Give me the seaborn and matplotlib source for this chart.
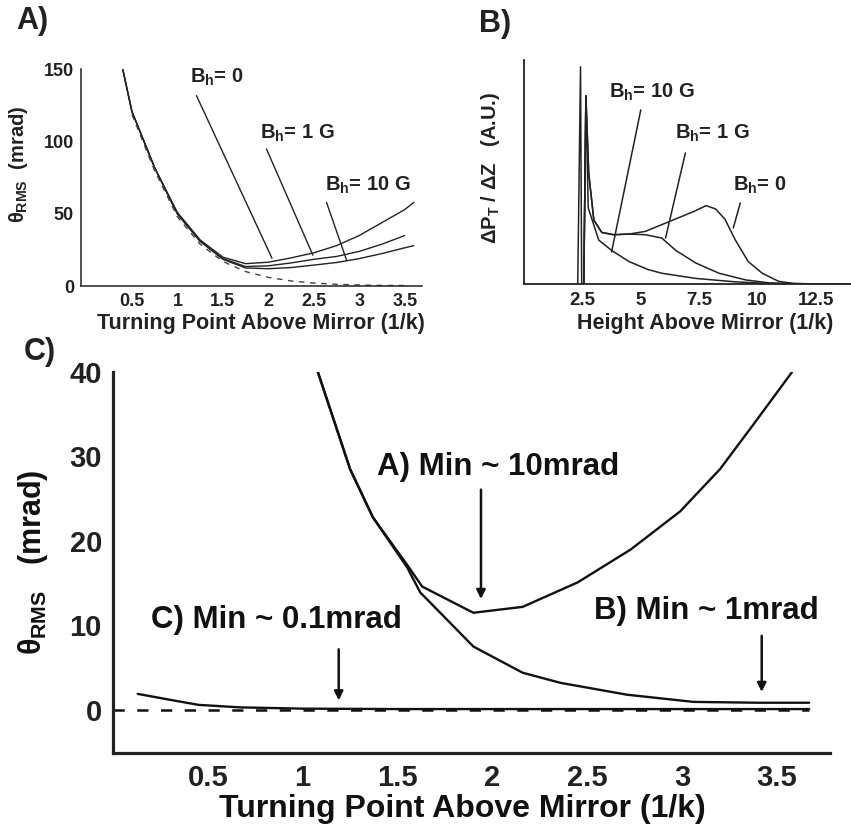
import numpy as np
import matplotlib
matplotlib.use("Agg")
import matplotlib.pyplot as plt
import seaborn as sns

# panel A: theta_rms vs turning point for three horizontal fields
a_x = [0.4, 0.5, 0.75, 1.0, 1.25, 1.5, 1.75, 2.0, 2.25, 2.5, 2.75, 3.0, 3.25, 3.5, 3.6]
a_bh0 = [150, 121, 82, 51, 32, 20, 15.5, 16.5, 19.5, 23, 28, 35, 44, 53, 58]
a_bh1 = [150, 121, 82, 50, 31, 19, 13.5, 14, 16, 18.5, 20.5, 24, 29, 35]
a_bh10 = [150, 121, 82, 50, 31, 18.5, 12.5, 12, 12.8, 14.5, 16.3, 19, 22.5, 26.5, 28]
a_ideal_x = [0.5, 0.75, 1.0, 1.25, 1.5, 1.75, 2.0, 2.25, 2.5, 2.75, 3.0, 3.25, 3.5]
a_ideal = [119, 80, 48, 29, 17, 10, 6, 3.5, 2, 1.2, 0.7, 0.4, 0.3]
a_xticks = [0.5, 1, 1.5, 2, 2.5, 3, 3.5]
a_yticks = [0, 50, 100, 150]

# panel B: dP/dz vs height
b_spike_x = [2.3, 2.42, 2.47]
b_spike_y = [0, 97, 0]
b0_x = [2.56, 2.65, 2.77, 2.99, 3.33, 3.84, 4.5, 5.2, 5.9, 6.6, 7.3, 7.8, 8.2, 8.6, 9.05, 9.6, 10.2, 10.9, 11.5, 12.5, 14]
b0_y = [0, 84, 49.5, 28.5, 23, 22, 22.3, 23.5, 26.5, 29.5, 32.5, 35, 33.5, 29, 19.6, 10, 4.8, 1.2, 0.3, 0, 0]
b1_x = [2.56, 2.65, 2.77, 2.99, 3.33, 3.84, 4.5, 5.2, 5.9, 6.5, 7.35, 8.35, 9.5, 10.5, 12, 14]
b1_y = [0, 84, 49.5, 28.5, 23, 22, 22.3, 22, 20.5, 15, 9.4, 4.8, 1.8, 0.5, 0, 0]
b10_x = [2.56, 2.65, 2.75, 3.2, 3.75, 4.5, 5.3, 5.9, 7.35, 9, 10.5, 12.5, 14]
b10_y = [0, 84, 34, 19.6, 15, 10, 6.5, 4.8, 2.5, 1, 0.2, 0, 0]
b_xticks = [2.5, 5, 7.5, 10, 12.5]

# panel C: three cases
c_a_x = [1.08, 1.25, 1.37, 1.55, 1.63, 1.9, 2.16, 2.45, 2.73, 2.99, 3.2, 3.37, 3.58]
c_a_y = [40, 28.5, 22.8, 17.2, 14.6, 11.5, 12.2, 15.1, 19, 23.5, 28.5, 33.6, 40]
c_b_x = [1.08, 1.25, 1.37, 1.55, 1.62, 1.9, 2.16, 2.36, 2.71, 3.06, 3.4, 3.67]
c_b_y = [40, 28.5, 22.8, 16.9, 13.9, 7.5, 4.4, 3.2, 1.8, 0.95, 0.85, 0.85]
c_c_x = [0.13, 0.3, 0.45, 0.67, 1.0, 1.5, 2.5, 3.0, 3.67]
c_c_y = [1.9, 1.2, 0.6, 0.3, 0.15, 0.1, 0.1, 0.1, 0.1]
c_zero_x = [0.0, 3.67]
c_zero_y = [0, 0]
c_xticks = [0.5, 1, 1.5, 2, 2.5, 3, 3.5]
c_yticks = [0, 10, 20, 30, 40]

sns.set_theme(style="white")
plt.rcParams['font.family'] = ['Liberation Sans', 'DejaVu Sans']
plt.rcParams['font.weight'] = 'bold'
plt.rcParams['mathtext.fontset'] = 'custom'
plt.rcParams['mathtext.rm'] = 'Liberation Sans:bold'
plt.rcParams['mathtext.it'] = 'Liberation Sans:bold'
plt.rcParams['mathtext.bf'] = 'Liberation Sans:bold'

fig = plt.figure(figsize=(8.51, 8.31), dpi=100)
W, H = 851, 831


def px_axes(l, t, r, b):
    return fig.add_axes([l / W, 1 - b / H, (r - l) / W, (b - t) / H])


def style(ax, lw, fs, pad):
    sns.despine(ax=ax)
    for s in ['left', 'bottom']:
        ax.spines[s].set_linewidth(lw)
        ax.spines[s].set_color('#222222')
    ax.tick_params(length=0, labelsize=fs, pad=pad, colors='#222222')
    for lab in ax.get_xticklabels() + ax.get_yticklabels():
        lab.set_fontweight('bold')


# ---------------- panel A
axA = px_axes(81, 69, 422, 286)
k = dict(color='#222222', lw=1.0, ax=axA)
sns.lineplot(x=a_x, y=a_bh0, **k)
sns.lineplot(x=a_x[:len(a_bh1)], y=a_bh1, **k)
sns.lineplot(x=a_x, y=a_bh10, **k)
sns.lineplot(x=a_ideal_x, y=a_ideal, color='#444444', lw=1.0, ax=axA, linestyle=(0, (4, 4)))
axA.set_xlim(-0.06, 3.69)
axA.set_ylim(0, 150.5)
axA.set_xticks(a_xticks)
axA.set_xticklabels(['0.5', '1', '1.5', '2', '2.5', '3', '3.5'])
axA.set_yticks(a_yticks)
style(axA, 1.1, 13, 5)
axA.set_xlabel('Turning Point Above Mirror (1/k)', fontsize=15.5, fontweight='bold', color='#222222')
axA.xaxis.set_label_coords(0.528, -0.124)
axA.set_ylabel(r'$\theta_{\rm RMS}$  (mrad)', fontsize=14.5, fontweight='bold', color='#222222')
axA.yaxis.set_label_coords(-0.15, 0.56)
for txt, tx, ty, x0, y0, x1, y1 in [
        (r'B$_{\rm h}$= 0', 1.14, 144.5, 1.21, 132, 2.04, 19.3),
        (r'B$_{\rm h}$= 1 G', 1.91, 106, 1.98, 95, 2.49, 21.4),
        (r'B$_{\rm h}$= 10 G', 2.62, 70, 2.64, 58, 2.86, 18)]:
    axA.text(tx, ty, txt, fontsize=14.5, fontweight='bold', ha='left', va='center', color='#222222')
    axA.plot([x0, x1], [y0, y1], color='#222222', lw=1.0)

# ---------------- panel B
axB = px_axes(524, 60, 851, 284)
k = dict(color='#222222', lw=1.1, ax=axB, sort=False)
sns.lineplot(x=b_spike_x, y=b_spike_y, **k)
sns.lineplot(x=b0_x, y=b0_y, **k)
sns.lineplot(x=b1_x, y=b1_y, **k)
sns.lineplot(x=b10_x, y=b10_y, **k)
axB.set_xlim(0, 14)
axB.set_ylim(0, 100)
axB.set_xticks(b_xticks)
axB.set_xticklabels(['2.5', '5', '7.5', '10', '12.5'])
axB.set_yticks([])
style(axB, 1.3, 13.5, 6)
axB.set_xlabel('Height Above Mirror (1/k)', fontsize=15.5, fontweight='bold', color='#222222')
axB.xaxis.set_label_coords(0.553, -0.13)
axB.set_ylabel(r'ΔP$_{\rm T}$ / ΔZ   (A.U.)', fontsize=14.5, fontweight='bold', color='#222222')
axB.yaxis.set_label_coords(-0.067, 0.52)
for txt, tx, ty, x0, y0, x1, y1 in [
        (r'B$_{\rm h}$= 10 G', 3.63, 85.7, 5.0, 77.7, 3.75, 14.3),
        (r'B$_{\rm h}$= 1 G', 6.48, 67.4, 6.91, 58.5, 6.06, 20.5),
        (r'B$_{\rm h}$= 0', 8.96, 44.2, 9.26, 36.2, 8.96, 25)]:
    axB.text(tx, ty, txt, fontsize=14.5, fontweight='bold', ha='left', va='center', color='#222222')
    axB.plot([x0, x1], [y0, y1], color='#222222', lw=1.1)

# ---------------- panel C
axC = px_axes(113, 372, 830, 753)
k = dict(color='#111111', lw=1.7, ax=axC)
sns.lineplot(x=c_a_x, y=c_a_y, **k)
sns.lineplot(x=c_b_x, y=c_b_y, **k)
sns.lineplot(x=c_c_x, y=c_c_y, **k)
sns.lineplot(x=c_zero_x, y=c_zero_y, color='#111111', lw=1.8, ax=axC, linestyle=(0, (4.5, 5)))
axC.set_xlim(0, 3.78)
axC.set_ylim(-5.1, 40)
axC.set_xticks(c_xticks)
axC.set_xticklabels(['0.5', '1', '1.5', '2', '2.5', '3', '3.5'])
axC.set_yticks(c_yticks)
style(axC, 2.3, 21, 8)
axC.set_xlabel('Turning Point Above Mirror (1/k)', fontsize=23, fontweight='bold', color='#111111')
axC.xaxis.set_label_coords(0.487, -0.108)
axC.set_ylabel(r'$\theta_{\rm RMS}$   (mrad)', fontsize=22, fontweight='bold', color='#111111')
axC.yaxis.set_label_coords(-0.088, 0.50)
for txt, tx, ty, ax_x, y0, y1 in [
        ('A) Min ~ 10mrad', 2.03, 28.8, 1.94, 26.4, 12.8),
        ('B) Min ~ 1mrad', 3.13, 11.7, 3.42, 9.1, 1.8),
        ('C) Min ~ 0.1mrad', 0.86, 10.7, 1.19, 7.5, 0.8)]:
    axC.text(tx, ty, txt, fontsize=22.5, fontweight='bold', ha='center', va='center', color='#111111')
    axC.annotate('', xy=(ax_x, y1), xytext=(ax_x, y0),
                 arrowprops=dict(arrowstyle='-|>', color='#111111', lw=1.8, mutation_scale=13))

# panel letters
fig.text(32 / W, 1 - 21 / H, 'A)', fontsize=22, fontweight='bold', ha='center', va='center', color='#222222')
fig.text(495 / W, 1 - 24 / H, 'B)', fontsize=22, fontweight='bold', ha='center', va='center', color='#222222')
fig.text(40 / W, 1 - 352 / H, 'C)', fontsize=22, fontweight='bold', ha='center', va='center', color='#222222')

fig.savefig('out.png', dpi=100)
